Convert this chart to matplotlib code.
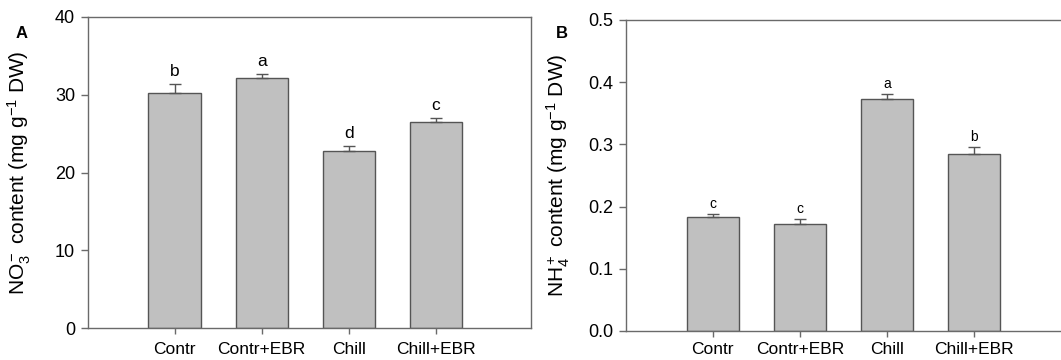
import matplotlib
matplotlib.use("Agg")
import matplotlib.pyplot as plt
import numpy as np

plt.rcParams['font.family'] = ['Liberation Sans', 'DejaVu Sans']
plt.rcParams['mathtext.fontset'] = 'custom'
plt.rcParams['mathtext.rm'] = 'Liberation Sans'
plt.rcParams['mathtext.it'] = 'Liberation Sans'

categories = ["Contr", "Contr+EBR", "Chill", "Chill+EBR"]
no3_values = [30.2, 32.2, 22.8, 26.45]
no3_err = [1.2, 0.5, 0.6, 0.55]
no3_letters = ["b", "a", "d", "c"]
nh4_values = [0.183, 0.172, 0.373, 0.284]
nh4_err = [0.005, 0.0085, 0.008, 0.011]
nh4_letters = ["c", "c", "a", "b"]

fig = plt.figure(figsize=(10.61, 3.6), dpi=100)
axA = fig.add_axes([0.0825, 0.088, 0.4177, 0.8653])
axB = fig.add_axes([0.5897, 0.0806, 0.4177, 0.8639])

spine_col = '#6a6a6a'
bar_col = '#c0c0c0'
edge_col = '#555555'

def draw(ax, vals, errs, letters, ylim, yticks, ylabel, letter_size, tick_size, letter_off, xpad):
    x = np.arange(1, len(vals) + 1)
    ax.bar(x, vals, width=0.6, color=bar_col, edgecolor=edge_col, linewidth=1.0, zorder=2)
    ax.errorbar(x, vals, yerr=[np.zeros(len(errs)), errs], fmt='none', ecolor=edge_col,
                elinewidth=1.0, capsize=4, capthick=1.0, zorder=3)
    for xi, v, e, l in zip(x, vals, errs, letters):
        ax.text(xi, v + e + letter_off, l, ha='center', va='bottom', fontsize=letter_size)
    ax.set_xlim(0, 5.09)
    ax.set_ylim(*ylim)
    ax.set_yticks(yticks)
    ax.set_xticks(x)
    ax.set_xticklabels(categories, fontsize=12.5)
    ax.tick_params(axis='y', labelsize=tick_size, direction='out', length=5, width=1, color=spine_col, pad=4)
    ax.tick_params(axis='x', direction='out', length=4, width=1, color=spine_col, pad=xpad)
    for s in ax.spines.values():
        s.set_color(spine_col)
        s.set_linewidth(1.0)
    ax.set_ylabel(ylabel, fontsize=15)

draw(axA, no3_values, no3_err, no3_letters, (0, 40), [0, 10, 20, 30, 40],
     r'NO$_3^-$ content (mg g$^{-1}$ DW)', 12.5, 13, 0.6, 6)
axA.set_yticklabels(['0', '10', '20', '30', '40'])
draw(axB, nh4_values, nh4_err, nh4_letters, (0, 0.5), [0.0, 0.1, 0.2, 0.3, 0.4, 0.5],
     r'NH$_4^+$ content (mg g$^{-1}$ DW)', 10, 13, 0.005, 4)
axB.set_yticklabels(['0.0', '0.1', '0.2', '0.3', '0.4', '0.5'])

axA.yaxis.set_label_coords(-0.123, 0.5)
axB.yaxis.set_label_coords(-0.121, 0.5)

fig.text(16 / 1061, 1 - 33 / 360, 'A', fontsize=12, fontweight='bold', ha='left', va='center')
fig.text(556 / 1061, 1 - 33 / 360, 'B', fontsize=12, fontweight='bold', ha='left', va='center')

fig.savefig('out.png', dpi=100)
